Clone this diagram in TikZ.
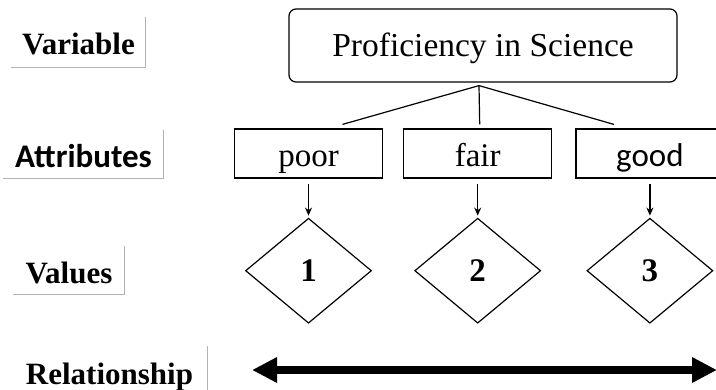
\documentclass[tikz,border=0pt]{standalone}
\usepackage{fontspec}
\setmainfont{Liberation Serif}
\newfontfamily\calfont{Carlito}
\usetikzlibrary{positioning,shapes.geometric,arrows.meta}

\begin{document}
\begin{tikzpicture}[x=0.5pt,y=-0.5pt,line width=0.6pt]
    \colorlet{lbx}{gray!60}
    \useasboundingbox (0,0) rectangle (716,390);

    \begin{scope}[
        every node/.style={inner sep=0pt,text height=16pt,text depth=3.5pt,
                           font=\fontsize{15.5}{18}\selectfont\bfseries}
    ]
        \node (var) [minimum width=66.5pt,minimum height=24.5pt] at (78.5,42.5)  {Variable};
        \node (att) [minimum width=79.5pt,minimum height=23.5pt,
                     font=\fontsize{16.5}{19}\selectfont\calfont\bfseries] at (83.5,154.5) {Attributes};
        \node (val) [minimum width=55pt,minimum height=23.5pt]   at (69,270.5)   {Values};
        \node (rel) [minimum width=97.5pt,minimum height=25pt]   at (109.5,372)  {Relationship};
    \end{scope}
    \foreach \n in {var,att,val,rel}
        \draw [lbx] (\n.north east) |- (\n.south west);

    \node (prof) [draw,rounded corners=3.5pt,minimum width=194pt,minimum height=36.5pt,
                  text height=15pt,text depth=3.5pt,
                  font=\fontsize{16.75}{19}\selectfont] at (483,45.5) {Proficiency in Science};

    \begin{scope}[
        node distance=10pt,
        every node/.style={draw,minimum width=74pt,minimum height=24.5pt,inner sep=0pt,
                           text height=16pt,text depth=3.5pt,
                           font=\fontsize{16.5}{19}\selectfont}
    ]
        \node (poor)                                    at (308.5,153.5) {poor};
        \node (fair) [right=of poor]                                     {fair};
        \node (good) [right=11.5pt of fair,font=\fontsize{16.5}{19}\selectfont\calfont] {good};
    \end{scope}

    \begin{scope}[
        node distance=19.5pt,
        every node/.style={draw,diamond,minimum width=63pt,minimum height=52.5pt,inner sep=0pt,
                           font=\fontsize{16.5}{19}\selectfont\bfseries}
    ]
        \node (v1) [below=of poor] {1};
        \node (v2) [below=of fair] {2};
        \node (v3) [below=of good] {3};
    \end{scope}

    \coordinate (root) at ([xshift=-2pt,yshift=-1.5pt]prof.south);
    \draw (root) -- ([xshift=17pt,yshift=2pt]poor.north);
    \draw (root) -- ([xshift=1pt,yshift=2pt]fair.north);
    \draw (root) -- ([xshift=-18pt,yshift=2pt]good.north);

    \foreach \a/\b in {poor/v1,fair/v2,good/v3}
        \draw [-{Stealth[length=4pt,width=3.5pt]},shorten <=2.5pt,shorten >=1pt] (\a) -- (\b);

    \coordinate (lend) at (252,370);
    \coordinate (rend) at (717,370);
    \draw [line width=4pt,{Triangle[length=12.5pt,width=12pt]}-{Triangle[length=12.5pt,width=12pt]}]
        (lend) -- (rend);
\end{tikzpicture}
\end{document}
